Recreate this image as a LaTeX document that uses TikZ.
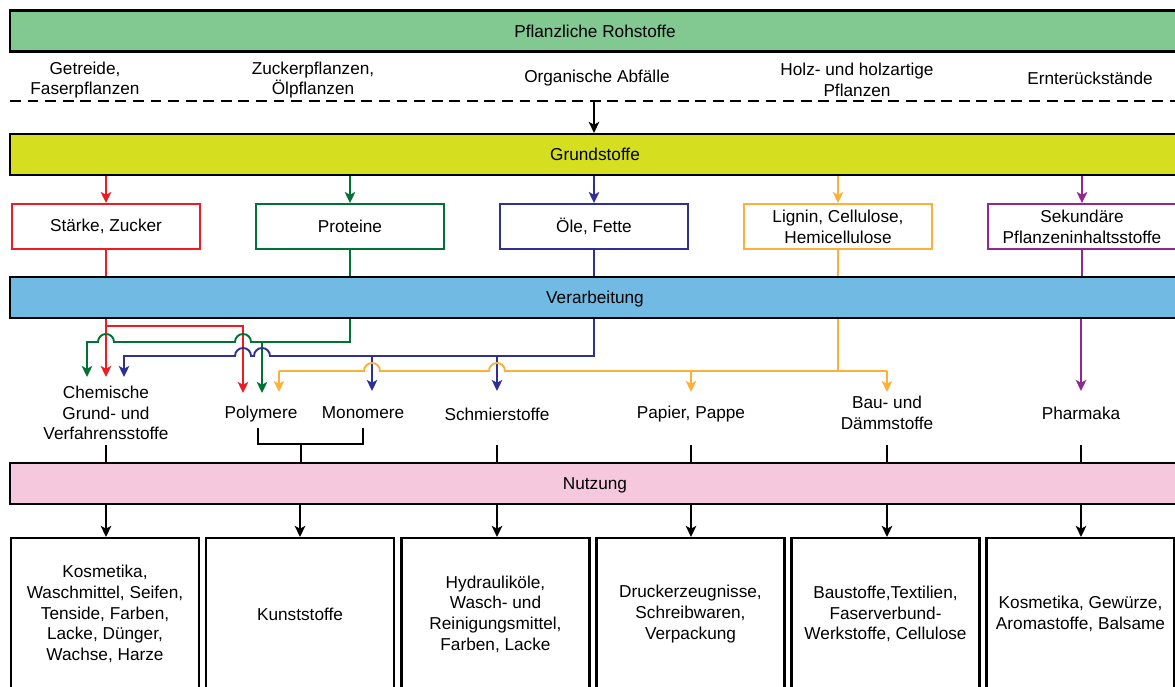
\documentclass[tikz,border=0pt]{standalone}
\usepackage{fontspec}
\setmainfont{Liberation Sans}
\usetikzlibrary{arrows.meta}
\definecolor{rohgreen}{RGB}{130,200,145}
\definecolor{grundyellow}{RGB}{214,222,32}
\definecolor{verarbblue}{RGB}{112,186,228}
\definecolor{nutzpink}{RGB}{246,200,222}
\definecolor{lred}{RGB}{237,28,36}
\definecolor{lgreen}{RGB}{0,114,54}
\definecolor{lblue}{RGB}{46,49,146}
\definecolor{lorange}{RGB}{251,176,59}
\definecolor{lpurple}{RGB}{146,39,143}

\begin{document}
\begin{tikzpicture}[x=0.02cm, y=-0.02cm,
    font=\fontsize{9.8}{11.8}\selectfont,
    >={Stealth[length=6.3pt,width=6pt,inset=1.6pt]},
    bar/.style={draw=black, line width=1.2pt, minimum width=23.4cm, minimum height=0.82cm, inner sep=0pt, text height=7pt, text depth=0pt},
    srcbox/.style={draw, line width=1.1pt, fill=white, minimum width=3.76cm, minimum height=0.9cm, align=center, inner sep=1pt},
    usebox/.style={draw=black, line width=1.2pt, minimum width=3.76cm, minimum height=3.04cm, align=center, inner sep=1pt},
    lbl/.style={align=center, inner sep=2pt},
    flow/.style={line width=1.1pt},
    stemline/.style={line width=1.1pt, black}]

    \useasboundingbox (0,0) rectangle (1175,686);
    \clip (0,0) rectangle (1175,686);

    % Rohstoffe
    \node[bar, fill=rohgreen] (roh) at (595,31) {Pflanzliche Rohstoffe};
    \node[lbl] (getreide) at (85,80) {Getreide,\\Faserpflanzen};
    \node[lbl] (zucker) at (313,80) {Zuckerpflanzen,\\Ölpflanzen};
    \node[lbl] (abfall) at (597,78) {Organische Abfälle};
    \node[lbl] (holz) at (857,80) {Holz- und holzartige\\Pflanzen};
    \node[lbl] (ernte) at (1090,78) {Ernterückstände};
    \coordinate (dl) at (10,101);
    \coordinate (dr) at (1180,101);
    \coordinate (dm) at (594,101);
    \draw[line width=1.1pt, dash pattern=on 6.2pt off 3.8pt] (dl) -- (dr);

    % Grundstoffe
    \node[bar, fill=grundyellow] (grund) at (595,154.5) {Grundstoffe};
    \draw[stemline, ->] (dm) -- (dm |- grund.north);

    \node[srcbox, draw=lred] (staerke) at (106,226.5) {Stärke, Zucker};
    \node[srcbox, draw=lgreen] (proteine) at (350,226.5) {Proteine};
    \node[srcbox, draw=lblue] (oele) at (594,226.5) {Öle, Fette};
    \node[srcbox, draw=lorange] (lignin) at (838,226.5) {Lignin, Cellulose,\\Hemicellulose};
    \node[srcbox, draw=lpurple] (sekundaer) at (1082,226.5) {Sekundäre\\Pflanzeninhaltsstoffe};

    % Verarbeitung
    \node[bar, fill=verarbblue] (verarb) at (595,297.5) {Verarbeitung};

    \foreach \b/\c in {staerke/lred, proteine/lgreen, oele/lblue, lignin/lorange, sekundaer/lpurple} {
        \draw[flow, \c, ->] (grund.south -| \b) -- (\b.north);
        \draw[flow, \c] (\b.south) -- (\b.south |- verarb.north);
    }

    % Produkte
    \node[lbl] (chem) at (106,413) {Chemische\\Grund- und\\Verfahrensstoffe};
    \node[lbl] (poly) at (261,414) {Polymere};
    \node[lbl] (mono) at (363,413) {Monomere};
    \node[lbl] (schmier) at (497,414) {Schmierstoffe};
    \node[lbl] (papier) at (691,414) {Papier, Pappe};
    \node[lbl] (bau) at (887,413) {Bau- und\\Dämmstoffe};
    \node[lbl] (pharma) at (1081,413) {Pharmaka};

    % red
    \draw[flow, lred, ->] (verarb.south -| staerke) -- (106,377);
    \draw[flow, lred, ->] (106,326) -| (243,393);
    % green
    \draw[flow, lgreen, ->] (verarb.south -| proteine) |- (251,342)
        arc[start angle=0, end angle=180, radius=0.16cm] -- (114,342)
        arc[start angle=0, end angle=180, radius=0.16cm] -- (87,342) -- (87,377);
    \draw[flow, lgreen, ->] (262,342) -- (262,393);
    % blue
    \draw[flow, lblue, ->] (verarb.south -| oele) |- (270,356)
        arc[start angle=0, end angle=180, radius=0.16cm] -- (251,356)
        arc[start angle=0, end angle=180, radius=0.16cm] -- (124,356) -- (124,377);
    \draw[flow, lblue, ->] (372,356) -- (372,391);
    \draw[flow, lblue, ->] (497,356) -- (497,391);
    % orange
    \draw[flow, lorange] (verarb.south -| lignin) -- (838,371);
    \draw[flow, lorange] (887,371) -- (505,371)
        arc[start angle=0, end angle=180, radius=0.16cm] -- (380,371)
        arc[start angle=0, end angle=180, radius=0.16cm] -- (279,371);
    \foreach \x in {279, 691, 887}
        \draw[flow, lorange, ->] (\x,371) -- (\x,392);
    % purple
    \draw[flow, lpurple, ->] (verarb.south -| pharma) -- (1081,391);

    % Nutzung
    \node[bar, fill=nutzpink] (nutzung) at (595,483.5) {Nutzung};
    \coordinate (stem) at (0,445);
    \foreach \p in {chem, schmier, papier, bau, pharma}
        \draw[stemline] (\p |- stem) -- (\p |- nutzung.north);
    \draw[stemline] (258,428) |- (363,444) -- (363,428);
    \draw[stemline] (301,444) -- (301,0 |- nutzung.north);

    \node[usebox] (kosm) at (105,614) {Kosmetika,\\Waschmittel, Seifen,\\Tenside, Farben,\\Lacke, Dünger,\\Wachse, Harze};
    \node[usebox] (kunst) at (300,614) {Kunststoffe};
    \node[usebox] (hydr) at (495.5,614) {Hydrauliköle,\\Wasch- und\\Reinigungsmittel,\\Farben, Lacke};
    \node[usebox] (druck) at (690.5,614) {Druckerzeugnisse,\\Schreibwaren,\\Verpackung};
    \node[usebox] (baust) at (885.5,614) {Baustoffe,Textilien,\\Faserverbund-\\Werkstoffe, Cellulose};
    \node[usebox] (arom) at (1080.5,614) {Kosmetika, Gewürze,\\Aromastoffe, Balsame};

    \foreach \u/\x in {kosm/106, kunst/300, hydr/497, druck/691, baust/887, arom/1081}
        \draw[stemline, ->] (\x,0 |- nutzung.south) -- (\x,0 |- \u.north);
\end{tikzpicture}
\end{document}
